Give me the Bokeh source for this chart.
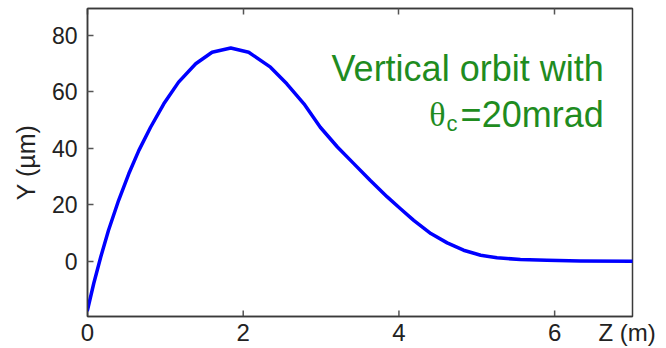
from bokeh.plotting import figure
from bokeh.models import Range1d, LinearAxis, Label, FixedTicker
from bokeh.embed import file_html
from bokeh.resources import INLINE

# Data (Z in m, Y in micrometres)
z_m = [0.0, 0.08, 0.17, 0.27, 0.40, 0.53, 0.66, 0.81, 0.98, 1.17, 1.39, 1.60, 1.84,
       2.07, 2.35, 2.56, 2.78, 2.99, 3.21, 3.42, 3.63, 3.85, 4.02, 4.19, 4.41, 4.62,
       4.83, 5.05, 5.26, 5.56, 5.90, 6.33, 7.0]
y_um = [-17.3, -7.9, 1.5, 11.0, 21.6, 31.0, 39.3, 47.5, 55.8, 63.5, 70.0, 74.1, 75.6,
        74.1, 68.8, 62.9, 55.8, 47.5, 40.5, 34.6, 28.7, 22.8, 18.6, 14.5, 9.8, 6.5,
        3.9, 2.1, 1.2, 0.6, 0.3, 0.1, 0.0]
x_ticks = [0, 2, 4, 6]
y_ticks = [0, 20, 40, 60, 80]
x_title = "Z (m)"
x_title_pos = 6.93
y_title = "Y (µm)"
note_line1 = "Vertical orbit with"
note_symbol = "θ"
note_sub = "c"
note_line2 = "=20mrad"

FONT = "Liberation Sans"
GREEN = "#1f8c1f"
FRAME = "#3a3a3a"
TXT = "#222222"

y_lo, y_hi = -19.6, 89.6
p = figure(width=666, height=348, output_backend="svg", toolbar_location=None,
           x_range=Range1d(0, 7.0), y_range=Range1d(y_lo, y_hi),
           min_border_left=87, min_border_right=34, min_border_top=8, min_border_bottom=31,
           x_axis_location=None, y_axis_location=None)
p.grid.visible = False
p.outline_line_color = FRAME
p.outline_line_width = 1.5
p.background_fill_color = "white"
p.border_fill_color = "white"


def style(ax):
    ax.major_tick_in = 6
    ax.major_tick_out = 0
    ax.minor_tick_line_color = None
    ax.axis_line_color = FRAME
    ax.axis_line_width = 1.5
    ax.major_tick_line_color = "#555555"
    ax.major_tick_line_width = 1.5
    ax.major_label_text_font = FONT
    ax.major_label_text_color = TXT
    ax.axis_label_text_font = FONT
    ax.axis_label_text_font_style = "normal"
    ax.axis_label_text_color = TXT


# bottom axis: numbers plus the "Z (m)" title placed as an extra label at the right end
xb = LinearAxis(ticker=FixedTicker(ticks=x_ticks + [x_title_pos]))
style(xb)
xb.major_tick_line_color = None
xb.major_label_overrides = {x_title_pos: x_title}
xb.major_label_text_font_size = "24px"
xb.major_label_standoff = 2
p.add_layout(xb, "below")

# inward tick marks on the bottom edge
tick_len = 6.0 / 2.825
p.segment(x0=x_ticks, y0=[y_lo] * len(x_ticks), x1=x_ticks, y1=[y_lo + tick_len] * len(x_ticks),
          line_color="#555555", line_width=1.5)

xt = LinearAxis(ticker=FixedTicker(ticks=x_ticks))
style(xt)
xt.major_label_overrides = {t: "" for t in x_ticks}
xt.major_label_text_font_size = "1px"
xt.major_label_standoff = 0
p.add_layout(xt, "above")

yl = LinearAxis(ticker=FixedTicker(ticks=y_ticks))
style(yl)
yl.major_label_text_font_size = "23px"
yl.major_label_standoff = 10
yl.axis_label = y_title
yl.axis_label_text_font_size = "25px"
yl.axis_label_standoff = 9
p.add_layout(yl, "left")

p.line(z_m, y_um, line_color="#0000ff", line_width=3.5, line_join="round", line_cap="round")

p.add_layout(Label(x=6.63, y=68.4, text=note_line1, text_align="right",
                   text_baseline="alphabetic", text_font=FONT, text_font_size="36px",
                   text_color=GREEN))
p.add_layout(Label(x=6.63, y=52.0, text=note_line2, text_align="right",
                   text_baseline="alphabetic", text_font=FONT, text_font_size="36px",
                   text_color=GREEN))
p.add_layout(Label(x=4.61, y=49.0, text=note_sub, text_align="left",
                   text_baseline="alphabetic", text_font=FONT, text_font_size="22px",
                   text_color=GREEN))
p.add_layout(Label(x=4.60, y=52.0, text=note_symbol, text_align="right",
                   text_baseline="alphabetic", text_font="Liberation Serif", text_font_size="34px",
                   text_color=GREEN))

open("out.html", "w").write(file_html(p, INLINE))
